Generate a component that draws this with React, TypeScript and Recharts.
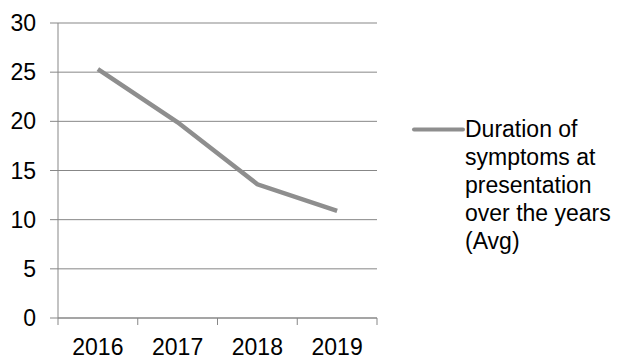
import { LineChart, Line, XAxis, YAxis, CartesianGrid } from "recharts";

const years = ["2016", "2017", "2018", "2019"];
const durationAvg = [25.3, 19.9, 13.6, 10.9];
const yTicks = [0, 5, 10, 15, 20, 25, 30];
const seriesName = "Duration of symptoms at presentation over the years (Avg)";
const legendLines = ["Duration of", "symptoms at", "presentation", "over the years", "(Avg)"];

const data = years.map((year, i) => ({ year, avg: durationAvg[i] }));

const W = 622;
const H = 357;
const PLOT_LEFT = 58;
const PLOT_RIGHT = 377;
const HALF_BAND = (PLOT_RIGHT - PLOT_LEFT) / years.length / 2;
const AXIS_GRAY = "#878787";
const LINE_GRAY = "#8e8e8e";
const FONT = "'Liberation Sans', Arial, sans-serif";
const FONT_SIZE = 23;

// category label in the middle, tick marks on the category boundaries
const YearTick = (props: any) => {
  const { x, y, payload, index } = props;
  return (
    <g>
      <line x1={x - HALF_BAND} x2={x - HALF_BAND} y1={y} y2={y + 7} stroke={AXIS_GRAY} strokeWidth={1} />
      {index === years.length - 1 && (
        <line x1={x + HALF_BAND} x2={x + HALF_BAND} y1={y} y2={y + 7} stroke={AXIS_GRAY} strokeWidth={1} />
      )}
      <text x={x} y={y + 37} textAnchor="middle" fontSize={FONT_SIZE} fill="#000" fontFamily={FONT}>
        {payload.value}
      </text>
    </g>
  );
};

const LegendBox = () => (
  <div
    style={{
      position: "absolute",
      left: 411,
      top: 115,
      display: "flex",
      fontFamily: FONT,
      fontSize: FONT_SIZE,
      lineHeight: "28px",
      color: "#000",
      whiteSpace: "nowrap",
    }}
    title={seriesName}
  >
    <svg width={54} height={28} style={{ flexShrink: 0 }}>
      <line x1={3} x2={52} y1={14.5} y2={14.5} stroke={LINE_GRAY} strokeWidth={4} strokeLinecap="round" />
    </svg>
    <div>
      {legendLines.map((t) => (
        <div key={t}>{t}</div>
      ))}
    </div>
  </div>
);

export default function App() {
  return (
    <div style={{ position: "relative", width: W, height: H, background: "#fff", overflow: "hidden" }}>
      <style>{"body{margin:0}"}</style>
      <LineChart width={W} height={H} data={data} margin={{ top: 23, right: W - PLOT_RIGHT, bottom: 0, left: 0 }}>
        <CartesianGrid vertical={false} stroke={AXIS_GRAY} strokeWidth={1} />
        <XAxis
          dataKey="year"
          height={39}
          padding={{ left: HALF_BAND, right: HALF_BAND }}
          axisLine={{ stroke: AXIS_GRAY }}
          tickLine={false}
          tickSize={0}
          tickMargin={0}
          tick={<YearTick />}
          interval={0}
        />
        <YAxis
          width={PLOT_LEFT}
          domain={[0, 30]}
          ticks={yTicks}
          axisLine={{ stroke: AXIS_GRAY }}
          tickLine={{ stroke: AXIS_GRAY }}
          tickSize={8}
          tickMargin={14}
          tick={{ fontSize: FONT_SIZE, fill: "#000", fontFamily: FONT }}
        />
        <Line
          type="linear"
          dataKey="avg"
          name={seriesName}
          stroke={LINE_GRAY}
          strokeWidth={4.5}
          dot={false}
          activeDot={false}
          isAnimationActive={false}
        />
      </LineChart>
      <LegendBox />
    </div>
  );
}
